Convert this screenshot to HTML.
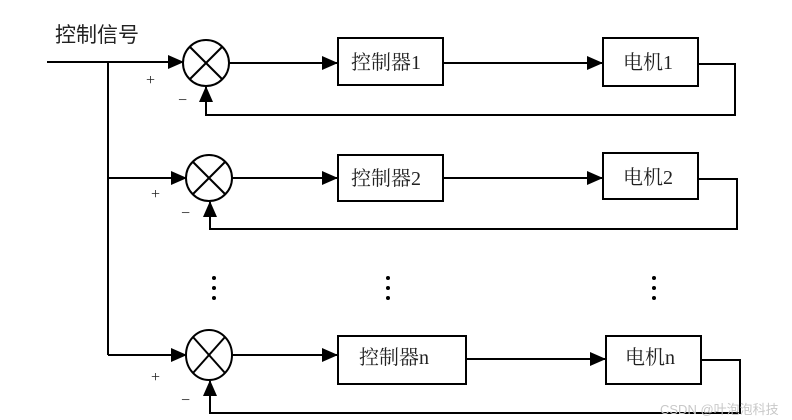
<!DOCTYPE html>
<html><head><meta charset="utf-8"><style>
html,body{margin:0;padding:0;background:#fff;}
svg{display:block;}
text{font-family:"Liberation Serif","Noto Serif CJK SC",serif;fill:#222;}
</style></head><body>
<svg width="792" height="420" viewBox="0 0 792 420" xmlns="http://www.w3.org/2000/svg">
<defs><marker id="a" markerWidth="10" markerHeight="10" refX="9" refY="5" orient="auto" markerUnits="userSpaceOnUse"><path d="M0,0 L10,5 L0,10 Z" fill="#000"/></marker>
<marker id="b" markerWidth="16" markerHeight="14" refX="15" refY="7" orient="auto" markerUnits="userSpaceOnUse"><path d="M0,0 L16,7 L0,14 Z" fill="#000"/></marker></defs>
<g stroke="#000" stroke-width="2" fill="none">
<text x="55" y="42" font-size="21" stroke="none" style="font-family:'Liberation Sans','Noto Sans CJK SC',sans-serif">控制信号</text>
<line x1="47" y1="62" x2="183" y2="62" marker-end="url(#b)"/>
<line x1="108" y1="62" x2="108" y2="355"/>
<line x1="108" y1="178" x2="186" y2="178" marker-end="url(#b)"/>
<line x1="108" y1="355" x2="186" y2="355" marker-end="url(#b)"/>
<!-- row1 -->
<circle cx="206" cy="63" r="23"/><line x1="190" y1="47" x2="222" y2="79"/><line x1="222" y1="47" x2="190" y2="79"/>
<line x1="229" y1="63" x2="337" y2="63" marker-end="url(#b)"/>
<rect x="338" y="38" width="105" height="47"/>
<line x1="443" y1="63" x2="602" y2="63" marker-end="url(#b)"/>
<rect x="603" y="38" width="95" height="48"/>
<polyline points="698,64 735,64 735,115 206,115 206,87" marker-end="url(#b)"/>
<!-- row2 -->
<circle cx="209" cy="178" r="23"/><line x1="193" y1="162" x2="225" y2="194"/><line x1="225" y1="162" x2="193" y2="194"/>
<line x1="232" y1="178" x2="337" y2="178" marker-end="url(#b)"/>
<rect x="338" y="155" width="105" height="46"/>
<line x1="443" y1="178" x2="602" y2="178" marker-end="url(#b)"/>
<rect x="603" y="153" width="95" height="46"/>
<polyline points="698,179 737,179 737,229 210,229 210,202" marker-end="url(#b)"/>
<!-- row n -->
<ellipse cx="209" cy="355" rx="23" ry="25"/><line x1="193" y1="337" x2="225" y2="373"/><line x1="225" y1="337" x2="193" y2="373"/>
<line x1="232" y1="355" x2="337" y2="355" marker-end="url(#b)"/>
<rect x="338" y="336" width="128" height="48"/>
<line x1="466" y1="359" x2="605" y2="359" marker-end="url(#b)"/>
<rect x="606" y="336" width="95" height="48"/>
<polyline points="701,360 740,360 740,413 210,413 210,381" marker-end="url(#b)"/>
</g>
<g fill="#000">
<circle cx="214" cy="278" r="2"/><circle cx="214" cy="288" r="2"/><circle cx="214" cy="298" r="2"/>
<circle cx="388" cy="278" r="2"/><circle cx="388" cy="288" r="2"/><circle cx="388" cy="298" r="2"/>
<circle cx="654" cy="278" r="2"/><circle cx="654" cy="288" r="2"/><circle cx="654" cy="298" r="2"/>
</g>
<g font-size="20">
<text x="351" y="69">控制器1</text><text x="351" y="185">控制器2</text><text x="359" y="364">控制器n</text>
<text x="623" y="69">电机1</text><text x="623" y="184">电机2</text><text x="625" y="364">电机n</text>
</g>
<g font-size="16" style="font-family:'Liberation Sans',sans-serif">
<text x="146" y="85">+</text><text x="178" y="105">−</text>
<text x="151" y="199">+</text><text x="181" y="218">−</text>
<text x="151" y="382">+</text><text x="181" y="405">−</text>
</g>
<text x="660" y="414" font-size="13" fill="#ccc" style="fill:#c8c8c8;font-family:'Liberation Sans','Noto Sans CJK SC',sans-serif">CSDN @叶泡泡科技</text>
</svg>
</body></html>
